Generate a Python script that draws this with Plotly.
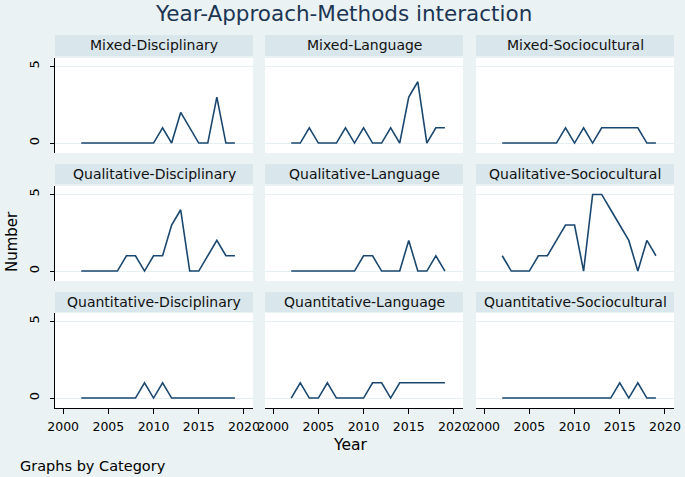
import plotly.graph_objects as go

years = [2002, 2003, 2004, 2005, 2006, 2007, 2008, 2009, 2010, 2011, 2012, 2013, 2014, 2015, 2016, 2017, 2018, 2019]

categories = [
    "Mixed-Disciplinary", "Mixed-Language", "Mixed-Sociocultural",
    "Qualitative-Disciplinary", "Qualitative-Language", "Qualitative-Sociocultural",
    "Quantitative-Disciplinary", "Quantitative-Language", "Quantitative-Sociocultural",
]

mixed_disciplinary = [0, 0, 0, 0, 0, 0, 0, 0, 0, 1, 0, 2, 1, 0, 0, 3, 0, 0]
mixed_language = [0, 0, 1, 0, 0, 0, 1, 0, 1, 0, 0, 1, 0, 3, 4, 0, 1, 1]
mixed_sociocultural = [0, 0, 0, 0, 0, 0, 0, 1, 0, 1, 0, 1, 1, 1, 1, 1, 0, 0]
qualitative_disciplinary = [0, 0, 0, 0, 0, 1, 1, 0, 1, 1, 3, 4, 0, 0, 1, 2, 1, 1]
qualitative_language = [0, 0, 0, 0, 0, 0, 0, 0, 1, 1, 0, 0, 0, 2, 0, 0, 1, 0]
qualitative_sociocultural = [1, 0, 0, 0, 1, 1, 2, 3, 3, 0, 5, 5, 4, 3, 2, 0, 2, 1]
quantitative_disciplinary = [0, 0, 0, 0, 0, 0, 0, 1, 0, 1, 0, 0, 0, 0, 0, 0, 0, 0]
quantitative_language = [0, 1, 0, 0, 1, 0, 0, 0, 0, 1, 1, 0, 1, 1, 1, 1, 1, 1]
quantitative_sociocultural = [0, 0, 0, 0, 0, 0, 0, 0, 0, 0, 0, 0, 0, 1, 0, 1, 0, 0]

series = [
    mixed_disciplinary, mixed_language, mixed_sociocultural,
    qualitative_disciplinary, qualitative_language, qualitative_sociocultural,
    quantitative_disciplinary, quantitative_language, quantitative_sociocultural,
]

x_ticks = [2000, 2005, 2010, 2015, 2020]
y_ticks = [0, 5]

W, H = 685, 477
col_px = [(55, 253), (265, 463), (476, 674)]
row_plot_px = [(58, 153), (186, 281), (313, 408)]
row_strip_px = [(35, 56), (164, 184), (292, 312)]


def px(x):
    return x / W


def py(y):
    return 1 - y / H


BG = "#eaf2f3"
STRIP = "#d9e6eb"
LINE = "#1a476f"
FONT = "DejaVu Sans, Verdana, sans-serif"

fig = go.Figure()
layout = dict(
    width=W, height=H,
    margin=dict(l=0, r=0, t=0, b=0, autoexpand=False),
    paper_bgcolor=BG, plot_bgcolor="white",
    showlegend=False,
    font=dict(family=FONT, color="black"),
)
annotations = []
shapes = []

for i, (cat, vals) in enumerate(zip(categories, series)):
    r, c = divmod(i, 3)
    n = i + 1
    xa = "xaxis" if n == 1 else f"xaxis{n}"
    ya = "yaxis" if n == 1 else f"yaxis{n}"
    xref = "x" if n == 1 else f"x{n}"
    yref = "y" if n == 1 else f"y{n}"
    x0, x1 = col_px[c]
    y0, y1 = row_plot_px[r]
    fig.add_trace(go.Scatter(x=years, y=vals, mode="lines",
                             line=dict(color=LINE, width=1.6),
                             xaxis=xref, yaxis=yref, hoverinfo="skip"))
    layout[xa] = dict(
        domain=[px(x0), px(x1)], anchor=yref, range=[1999.1, 2021],
        tickvals=x_ticks, showgrid=False, zeroline=False, automargin=False,
        showticklabels=(r == 2), ticks="outside" if r == 2 else "",
        ticklen=5, tickcolor="black", showline=(r == 2), linecolor="black",
        linewidth=1, tickfont=dict(size=12.5, family=FONT, color="black"),
        ticklabelstandoff=2,
    )
    layout[ya] = dict(
        domain=[py(y1), py(y0)], anchor=xref, range=[-0.65, 5.55],
        tickvals=y_ticks, showgrid=True, gridcolor="#e6eff2", gridwidth=1,
        zeroline=False, showticklabels=(c == 0), automargin=False,
        ticks="outside" if c == 0 else "", ticklen=4, tickcolor="black",
        showline=(c == 0), linecolor="black", linewidth=1, tickangle=-90,
        tickfont=dict(size=13, family=FONT, color="black"),
        ticklabelstandoff=6,
    )
    sy0, sy1 = row_strip_px[r]
    shapes.append(dict(type="rect", xref="paper", yref="paper",
                       x0=px(x0), x1=px(x1), y0=py(sy1), y1=py(sy0),
                       fillcolor=STRIP, line=dict(width=0), layer="below"))
    annotations.append(dict(text=cat, xref="paper", yref="paper",
                            x=px((x0 + x1) / 2), y=py((sy0 + sy1) / 2),
                            xanchor="center", yanchor="middle", showarrow=False,
                            font=dict(size=14, family=FONT, color="#111111")))

annotations.append(dict(text="Year-Approach-Methods interaction", xref="paper", yref="paper",
                        x=px(343), y=py(13), xanchor="center", yanchor="middle",
                        showarrow=False, font=dict(size=21.5, family=FONT, color="#1c3553")))
annotations.append(dict(text="Number", xref="paper", yref="paper",
                        x=px(12), y=py(242), xanchor="center", yanchor="middle",
                        textangle=-90, showarrow=False,
                        font=dict(size=15, family=FONT, color="black")))
annotations.append(dict(text="Year", xref="paper", yref="paper",
                        x=px(350), y=py(445), xanchor="center", yanchor="middle",
                        showarrow=False, font=dict(size=15.5, family=FONT, color="black")))
annotations.append(dict(text="Graphs by Category", xref="paper", yref="paper",
                        x=px(18), y=py(466), xanchor="left", yanchor="middle",
                        showarrow=False, font=dict(size=14.5, family=FONT, color="black")))

layout["annotations"] = annotations
layout["shapes"] = shapes
fig.update_layout(**layout)
fig.write_html(
    "out.html",
    config={"displayModeBar": False},
    post_script="document.body.style.margin='0';document.body.style.padding='0';"
                "document.body.style.background='#eaf2f3';",
)
